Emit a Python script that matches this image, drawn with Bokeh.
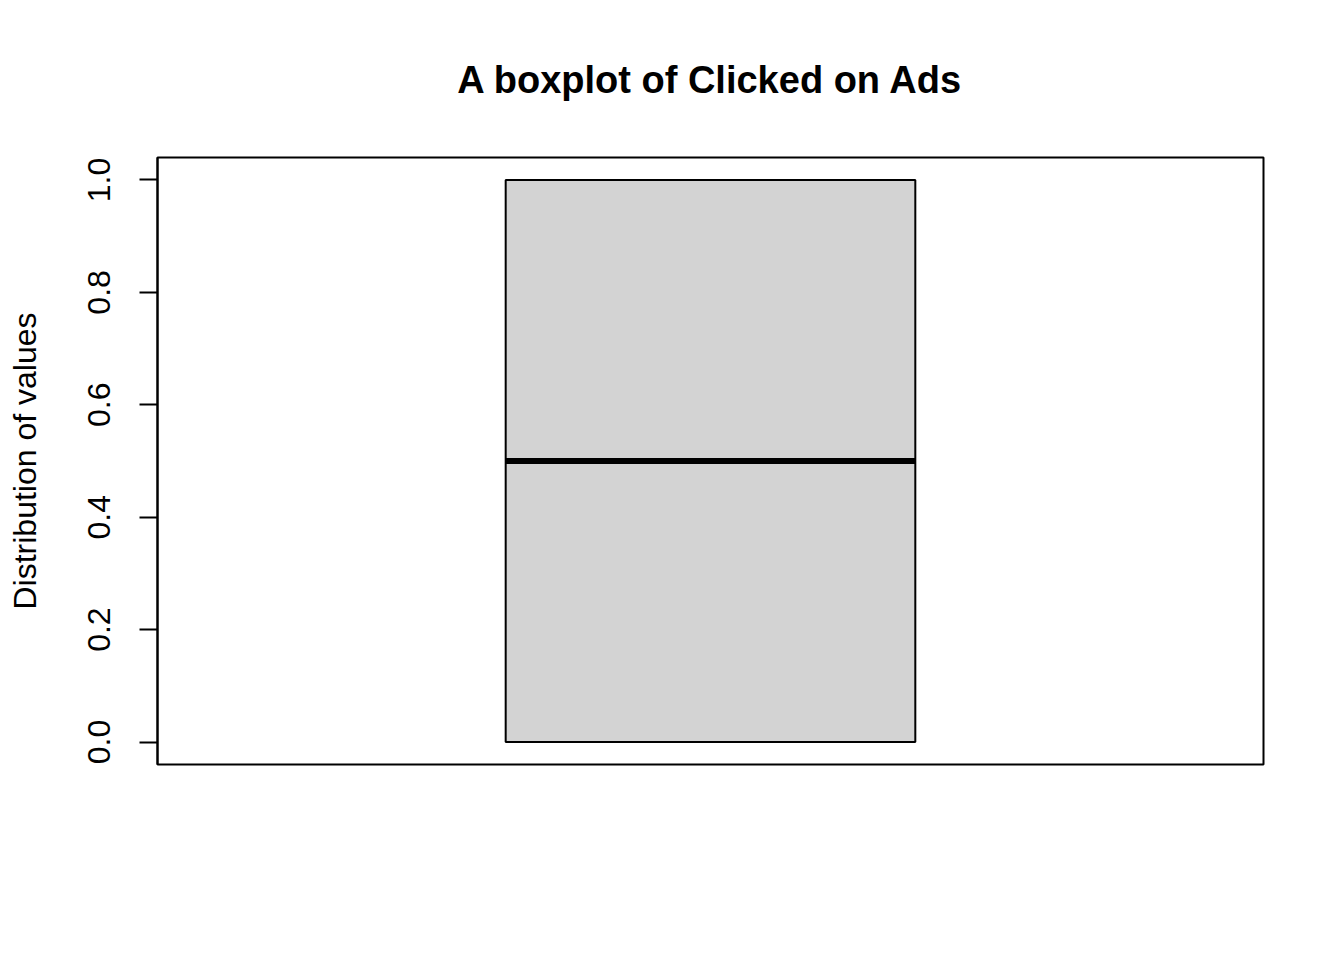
import math
from bokeh.plotting import figure
from bokeh.models import Range1d, FixedTicker
from bokeh.embed import file_html
from bokeh.resources import INLINE

# Data: five-number summary of "Clicked on Ads" (binary 0/1, half clicked)
group_pos = [1.0]
stat_min = [0.0]
stat_q1 = [0.0]
stat_median = [0.5]
stat_q3 = [1.0]
stat_max = [1.0]
y_ticks = [0.0, 0.2, 0.4, 0.6, 0.8, 1.0]
y_tick_labels = ["0.0", "0.2", "0.4", "0.6", "0.8", "1.0"]

box_half = 0.2
staple_half = 0.1

p = figure(width=1344, height=960, output_backend="svg", toolbar_location=None,
           x_range=Range1d(0.46, 1.54), y_range=Range1d(-0.04, 1.04),
           min_border_left=157, min_border_right=81, min_border_top=157, min_border_bottom=196,
           title="A boxplot of Clicked on Ads")

p.background_fill_color = "white"
p.border_fill_color = "white"
p.outline_line_color = "black"
p.outline_line_width = 2
p.xgrid.visible = False
p.ygrid.visible = False
p.xaxis.visible = False

p.title.text_font = "Liberation Sans"
p.title.text_font_size = "38px"
p.title.text_font_style = "bold"
p.title.align = "center"
p.title.text_color = "black"
p.title.standoff = 113

ax = p.yaxis[0]
ax.ticker = FixedTicker(ticks=y_ticks)
ax.major_label_overrides = {t: l for t, l in zip(y_ticks, y_tick_labels)}
ax.major_label_orientation = "parallel"
ax.major_label_text_font = "Liberation Sans"
ax.major_label_text_font_size = "32px"
ax.major_label_text_color = "black"
ax.major_label_standoff = 29
ax.major_tick_out = 18
ax.major_tick_in = 0
ax.major_tick_line_width = 2
ax.major_tick_line_color = "black"
ax.minor_tick_line_color = None
ax.axis_line_color = "black"
ax.axis_line_width = 2
ax.axis_label = "Distribution of values"
ax.axis_label_text_font = "Liberation Sans"
ax.axis_label_text_font_size = "32px"
ax.axis_label_text_font_style = "normal"
ax.axis_label_text_color = "black"
ax.axis_label_standoff = 43

left = [g - box_half for g in group_pos]
right = [g + box_half for g in group_pos]

# whiskers (dashed) and staples
p.segment(x0=group_pos, y0=stat_q3, x1=group_pos, y1=stat_max, line_color="black",
          line_width=2, line_dash="6 6")
p.segment(x0=group_pos, y0=stat_q1, x1=group_pos, y1=stat_min, line_color="black",
          line_width=2, line_dash="6 6")
p.segment(x0=[g - staple_half for g in group_pos], y0=stat_max,
          x1=[g + staple_half for g in group_pos], y1=stat_max, line_color="black", line_width=2)
p.segment(x0=[g - staple_half for g in group_pos], y0=stat_min,
          x1=[g + staple_half for g in group_pos], y1=stat_min, line_color="black", line_width=2)

# box
p.quad(left=left, right=right, bottom=stat_q1, top=stat_q3,
       fill_color="#d3d3d3", line_color="black", line_width=2)
# median
p.segment(x0=left, y0=stat_median, x1=right, y1=stat_median, line_color="black", line_width=6)

open("out.html", "w").write(file_html(p, INLINE))
